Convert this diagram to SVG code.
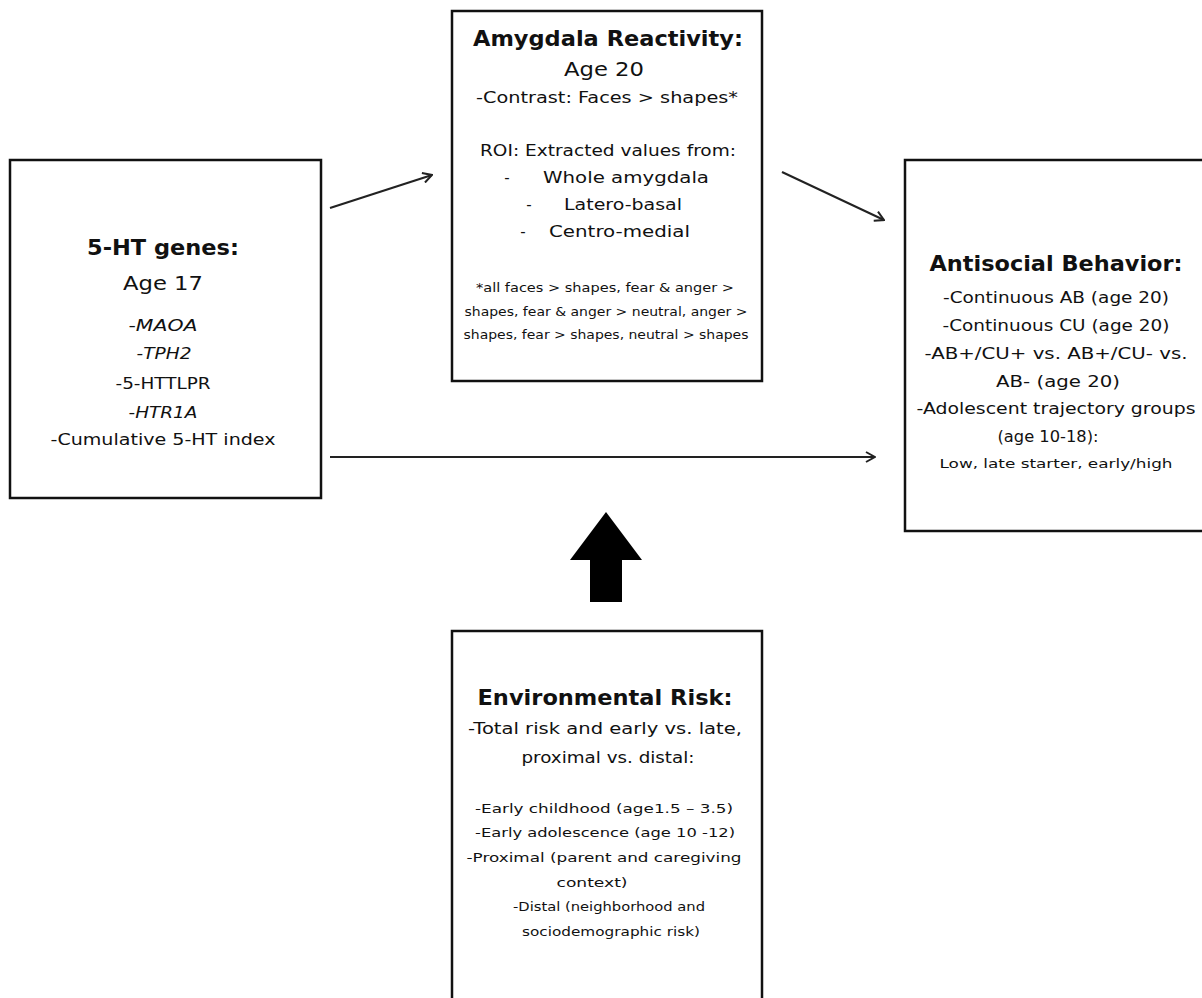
<svg xmlns="http://www.w3.org/2000/svg" width="1202" height="998" viewBox="0 0 1202 998">
<style>
.box{fill:#fff;stroke:#111;stroke-width:2.5}
text{font-family:"DejaVu Sans","Liberation Sans",sans-serif;fill:#111;text-anchor:middle}
.h{font-weight:bold;font-size:21.5px}
.a{font-size:19.5px}
.t{font-size:15px}
.s{font-size:11.5px}
.l{text-anchor:start}
.i{font-style:italic}
.c{stroke:#222;stroke-width:2.2;fill:none}
</style>
<defs>
<marker id="arr" viewBox="0 0 12 12" refX="11" refY="6" markerWidth="12" markerHeight="12" markerUnits="userSpaceOnUse" orient="auto">
<polyline points="2,1 11,6 2,11" fill="none" stroke="#222" stroke-width="2"/>
</marker>
</defs>
<g id="connectors">
<line class="c" x1="330" y1="208" x2="432" y2="175" marker-end="url(#arr)"/>
<line class="c" x1="782" y1="172" x2="884" y2="220" marker-end="url(#arr)"/>
<line class="c" x1="330" y1="457" x2="875" y2="457" marker-end="url(#arr)"/>
<polygon points="606,512 642,560 622,560 622,602 590,602 590,560 570,560" fill="#000"/>
</g>
<g id="amygdala">
<rect class="box" x="452" y="11" width="310" height="370"/>
<text class="h" x="608" y="46" textLength="270" lengthAdjust="spacingAndGlyphs">Amygdala Reactivity:</text>
<text class="a" x="604" y="76" textLength="80" lengthAdjust="spacingAndGlyphs">Age 20</text>
<text class="t" x="607" y="103" textLength="262" lengthAdjust="spacingAndGlyphs">-Contrast:  Faces &gt; shapes*</text>
<text class="t" x="608" y="156" textLength="256" lengthAdjust="spacingAndGlyphs">ROI: Extracted values from:</text>
<text class="t" x="507" y="183">-</text>
<text class="t l" x="543" y="183" textLength="166" lengthAdjust="spacingAndGlyphs">Whole amygdala</text>
<text class="t" x="529" y="210">-</text>
<text class="t l" x="564" y="210" textLength="118" lengthAdjust="spacingAndGlyphs">Latero-basal</text>
<text class="t" x="523" y="237">-</text>
<text class="t l" x="549" y="237" textLength="141" lengthAdjust="spacingAndGlyphs">Centro-medial</text>
<text class="s" x="605" y="292" textLength="258" lengthAdjust="spacingAndGlyphs">*all faces &gt; shapes, fear &amp; anger &gt;</text>
<text class="s" x="606" y="316" textLength="283" lengthAdjust="spacingAndGlyphs">shapes, fear &amp; anger &gt; neutral, anger &gt;</text>
<text class="s" x="606" y="339" textLength="285" lengthAdjust="spacingAndGlyphs">shapes, fear &gt; shapes, neutral &gt; shapes</text>
</g>
<g id="genes">
<rect class="box" x="10" y="160" width="311" height="338"/>
<text class="h" x="163" y="255" textLength="152" lengthAdjust="spacingAndGlyphs">5-HT genes:</text>
<text class="a" x="163" y="290" textLength="80" lengthAdjust="spacingAndGlyphs">Age 17</text>
<text class="t" x="163" y="331" textLength="69" lengthAdjust="spacingAndGlyphs"><tspan>-</tspan><tspan class="i">MAOA</tspan></text>
<text class="t" x="164" y="359" textLength="55" lengthAdjust="spacingAndGlyphs"><tspan>-</tspan><tspan class="i">TPH2</tspan></text>
<text class="t" x="163" y="389" textLength="95" lengthAdjust="spacingAndGlyphs">-5-HTTLPR</text>
<text class="t" x="163" y="418" textLength="69" lengthAdjust="spacingAndGlyphs"><tspan>-</tspan><tspan class="i">HTR1A</tspan></text>
<text class="t" x="163" y="445" textLength="225" lengthAdjust="spacingAndGlyphs">-Cumulative  5-HT  index</text>
</g>
<g id="antisocial">
<rect class="box" x="905" y="160" width="310" height="371"/>
<text class="h" x="1056" y="271" textLength="253" lengthAdjust="spacingAndGlyphs">Antisocial  Behavior:</text>
<text class="t" x="1056" y="303" textLength="226" lengthAdjust="spacingAndGlyphs">-Continuous  AB  (age 20)</text>
<text class="t" x="1056" y="331" textLength="227" lengthAdjust="spacingAndGlyphs">-Continuous  CU  (age 20)</text>
<text class="t" x="1056" y="359" textLength="263" lengthAdjust="spacingAndGlyphs">-AB+/CU+  vs. AB+/CU-  vs.</text>
<text class="t" x="1058" y="387" textLength="124" lengthAdjust="spacingAndGlyphs">AB- (age 20)</text>
<text class="t" x="1056" y="414" textLength="279" lengthAdjust="spacingAndGlyphs">-Adolescent trajectory groups</text>
<text class="t" x="1048" y="442" textLength="101" lengthAdjust="spacingAndGlyphs">(age 10-18):</text>
<text class="s" x="1056" y="468" textLength="233" lengthAdjust="spacingAndGlyphs">Low,  late starter, early/high</text>
</g>
<g id="environment">
<rect class="box" x="452" y="631" width="310" height="380"/>
<text class="h" x="605" y="705" textLength="255" lengthAdjust="spacingAndGlyphs">Environmental Risk:</text>
<text class="t" x="605" y="734" textLength="274" lengthAdjust="spacingAndGlyphs">-Total risk and early vs. late,</text>
<text class="t" x="608" y="763" textLength="173" lengthAdjust="spacingAndGlyphs">proximal vs. distal:</text>
<text class="s" x="604" y="813" textLength="258" lengthAdjust="spacingAndGlyphs">-Early childhood (age1.5 – 3.5)</text>
<text class="s" x="605" y="837" textLength="260" lengthAdjust="spacingAndGlyphs">-Early adolescence (age 10 -12)</text>
<text class="s" x="604" y="862" textLength="275" lengthAdjust="spacingAndGlyphs">-Proximal (parent and caregiving</text>
<text class="s" x="592" y="887" textLength="71" lengthAdjust="spacingAndGlyphs">context)</text>
<text class="s" x="609" y="911" textLength="192" lengthAdjust="spacingAndGlyphs">-Distal (neighborhood and</text>
<text class="s" x="611" y="936" textLength="178" lengthAdjust="spacingAndGlyphs">sociodemographic risk)</text>
</g>
</svg>
